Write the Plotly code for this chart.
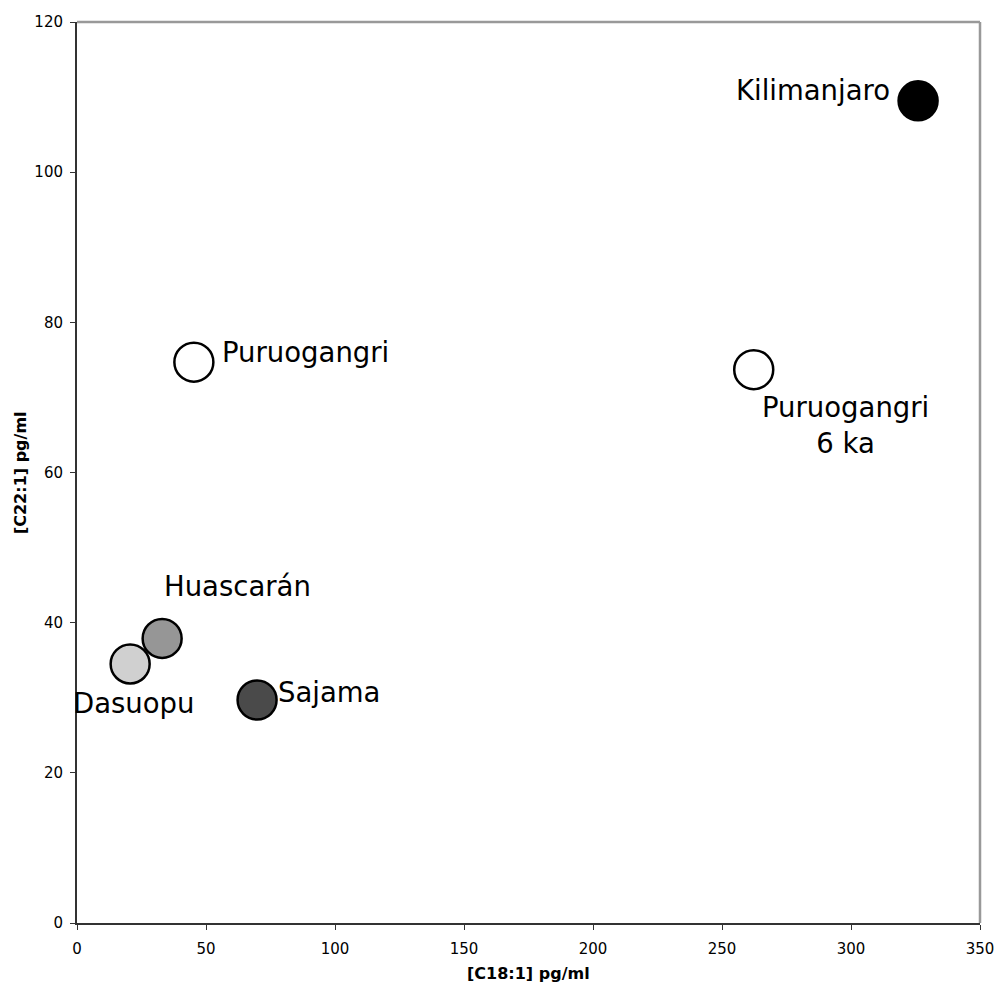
import plotly.graph_objects as go

sites = ["Kilimanjaro", "Puruogangri", "Puruogangri<br>6 ka", "Huascarán", "Dasuopu", "Sajama"]
c18 = [326, 45.3, 262.3, 33, 20.6, 69.8]
c22 = [109.5, 74.7, 73.7, 37.9, 34.5, 29.7]
fills = ["#000000", "#ffffff", "#ffffff", "#969696", "#d0d0d0", "#4a4a4a"]
x_title = "[C18:1] pg/ml"
y_title = "[C22:1] pg/ml"
# label offsets in pixels (xshift, yshift, xanchor)
label_pos = [(-26, 11, "right"), (26, 10, "left"), (92, -55, "center"),
             (75, 52, "center"), (4, -39, "center"), (19, 8, "left")]

fig = go.Figure()
fig.add_trace(go.Scatter(
    x=c18, y=c22, mode="markers",
    marker=dict(size=39, color=fills, line=dict(color="#000000", width=2.5)),
    hoverinfo="skip", showlegend=False,
))

for s, x, y, (dx, dy, xa) in zip(sites, c18, c22, label_pos):
    fig.add_annotation(x=x, y=y, text=s, showarrow=False, xshift=dx, yshift=dy,
                       xanchor=xa, yanchor="middle",
                       font=dict(family="DejaVu Sans", size=27.5, color="#000000"))

axis_common = dict(showgrid=False, zeroline=False, ticks="outside", ticklen=5,
                   tickcolor="#333333", showline=True, linecolor="#333333", linewidth=2,
                   tickfont=dict(family="DejaVu Sans", size=15, color="#000000"),
                   mirror=False, automargin=False)

fig.update_xaxes(range=[0, 350], tickvals=[0, 50, 100, 150, 200, 250, 300, 350],
                 ticklabelstandoff=6, **axis_common)
fig.update_yaxes(range=[0, 120], tickvals=[0, 20, 40, 60, 80, 100, 120],
                 ticklabelstandoff=4, **axis_common)

# axis titles
title_font = dict(family="DejaVu Sans", size=16, color="#000000")
fig.add_annotation(xref="paper", yref="paper", x=0.5, y=-0.0555, text="<b>" + x_title + "</b>",
                   showarrow=False, xanchor="center", yanchor="middle", font=title_font)
fig.add_annotation(xref="paper", yref="paper", x=-0.0625, y=0.5, text="<b>" + y_title + "</b>",
                   showarrow=False, xanchor="center", yanchor="middle", textangle=-90,
                   font=title_font)

# top/right frame in lighter gray
fig.add_shape(type="line", xref="paper", yref="paper", x0=0, x1=1, y0=1, y1=1,
              line=dict(color="#999999", width=2.5))
fig.add_shape(type="line", xref="paper", yref="paper", x0=1, x1=1, y0=0, y1=1,
              line=dict(color="#999999", width=2.5))

fig.update_layout(width=998, height=988, plot_bgcolor="#ffffff", paper_bgcolor="#ffffff",
                  margin=dict(l=77, r=18, t=22, b=65))

fig.write_html("out.html")
